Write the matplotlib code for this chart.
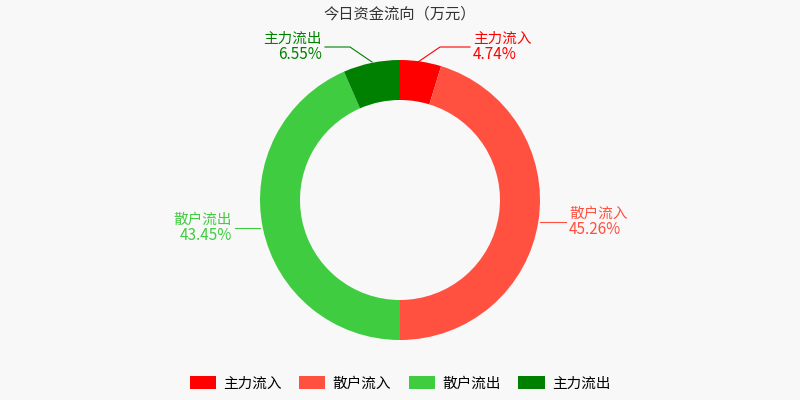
import matplotlib.pyplot as plt
from matplotlib.patches import Patch

plt.rcParams['font.family'] = ['Noto Sans CJK SC', 'DejaVu Sans']

# ── Data ──────────────────────────────────────────────────────────────────────
labels = ['主力流入', '散户流入', '散户流出', '主力流出']
shares = [4.74, 45.26, 43.45, 6.55]
colors = ['#ff0000', '#ff5040', '#40cc40', '#008000']

# label anchors in pixel coords: (wedge point, elbow, text end, align)
label_spots = [
    ((418, 62), (440, 47), (470, 47), 'left'),
    ((540, 222), (552, 222), (566, 222), 'left'),
    ((260, 228), (248, 228), (235, 228), 'right'),
    ((372, 62), (350, 47), (325, 47), 'right'),
]

fig = plt.figure(figsize=(8, 4), dpi=100, facecolor='#f8f8f8')
ax = fig.add_axes([0, 0, 1, 1])
ax.set_facecolor('#f8f8f8')
ax.set_xlim(0, 800)
ax.set_ylim(0, 400)
ax.axis('off')

ax.pie(shares, colors=colors, startangle=90, counterclock=False,
       center=(400, 200), radius=140, frame=True,
       wedgeprops=dict(width=40, edgecolor='none'))
ax.set_xlim(0, 800)
ax.set_ylim(0, 400)
ax.set_aspect('auto')
ax.axis('off')

for name, val, col, (p0, p1, p2, ha) in zip(labels, shares, colors, label_spots):
    ax.plot([p0[0], p1[0], p2[0]], [400 - p0[1], 400 - p1[1], 400 - p2[1]],
            color=col, lw=0.8)
    x = p2[0] + (3 if ha == 'left' else -3)
    ax.text(x, 400 - p2[1] + 1, name, color=col, fontsize=10.5,
            ha=ha, va='bottom')
    ax.text(x, 400 - p2[1] + 1, f'{val:.2f}%', color=col, fontsize=11,
            ha=ha, va='top')

ax.text(400, 386, '今日资金流向（万元）', color='#333333', fontsize=11,
        ha='center', va='center')

handles = [Patch(facecolor=c, edgecolor='none') for c in colors]
fig.legend(handles, labels, loc='lower center', ncol=4, frameon=False,
           bbox_to_anchor=(0.5, -0.01), fontsize=10.5, handlelength=1.8,
           handleheight=1.0, columnspacing=1.2, handletextpad=0.5)

plt.savefig('out.png', dpi=100, facecolor=fig.get_facecolor())
